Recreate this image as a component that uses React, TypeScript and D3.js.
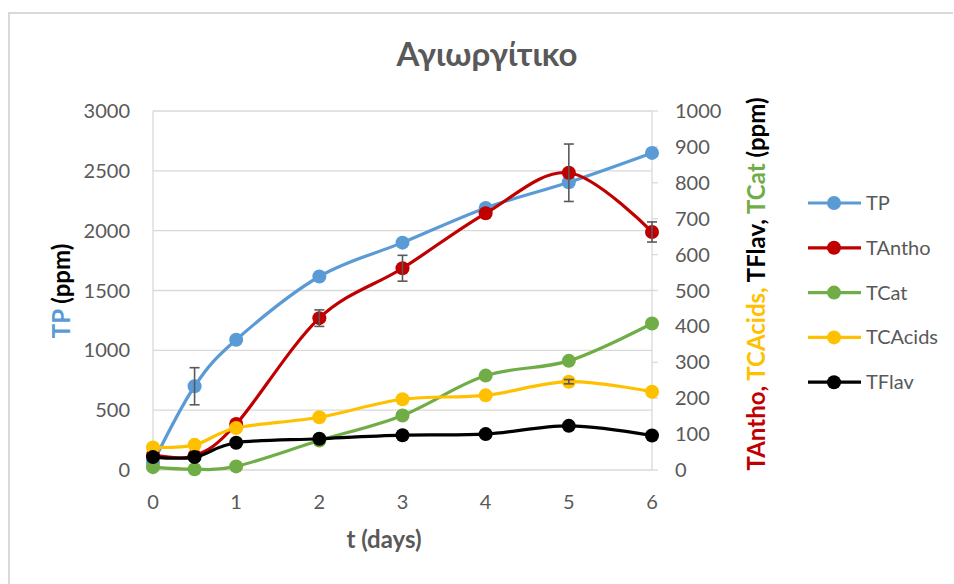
import React from 'react';
import * as d3 from 'd3';

const days = [0, 0.5, 1, 2, 3, 4, 5, 6];
const tp = [60, 700, 1088, 1617, 1900, 2190, 2405, 2650];
const tAntho = [42, 40, 128, 423, 562, 715, 828, 663];
const tCat = [8, 2, 10, 82, 152, 263, 304, 408];
const tCAcids = [63, 70, 117, 147, 197, 208, 246, 218];
const tFlav = [36, 36, 76, 87, 97, 100, 123, 96];

// error bars: [day index, +/-]
const tpErr = [[1, 155]];
const tAnthoErr = [[3, 23], [4, 36], [6, 80], [7, 28]];
const tCAcidsErr = [[6, 6]];

const leftTicks = [0, 500, 1000, 1500, 2000, 2500, 3000];
const rightTicks = [0, 100, 200, 300, 400, 500, 600, 700, 800, 900, 1000];
const xTicks = [0, 1, 2, 3, 4, 5, 6];

const series = [
  { name: 'TP', values: tp, color: '#5B9BD5', axis: 'left', err: tpErr },
  { name: 'TAntho', values: tAntho, color: '#C00000', axis: 'right', err: tAnthoErr },
  { name: 'TCat', values: tCat, color: '#70AD47', axis: 'right', err: [] },
  { name: 'TCAcids', values: tCAcids, color: '#FFC000', axis: 'right', err: tCAcidsErr },
  { name: 'TFlav', values: tFlav, color: '#000000', axis: 'right', err: [] },
];

const font = "Lato, 'Open Sans', 'Noto Sans', sans-serif";
const grey = '#595959';
const gridCol = '#d9d9d9';

const App = () => {
  const width = 954;
  const height = 584;
  const left = 153;
  const right = 652;
  const top = 111;
  const bottom = 470;

  const x = d3.scaleLinear().domain([0, 6]).range([left, right]);
  const yL = d3.scaleLinear().domain([0, 3000]).range([bottom, top]);
  const yR = d3.scaleLinear().domain([0, 1000]).range([bottom, top]);

  const lineFor = (s) =>
    d3.line()
      .x((d, i) => x(days[i]))
      .y((d) => (s.axis === 'left' ? yL(d) : yR(d)))
      .curve(d3.curveCardinal.tension(0))(s.values);

  return (
    <svg
      width={width}
      height={height}
      style={{ position: 'absolute', left: 0, top: 0, background: '#fff' }}
      fontFamily={font}
    >
      <rect x={0} y={0} width={width} height={height} fill="#fff" />
      {/* chart border */}
      <path d={`M9,${height + 5} V13 H953`} fill="none" stroke={gridCol} strokeWidth={2} />

      <text x={487} y={66} textAnchor="middle" fontSize={33} fontWeight="bold" fill={grey}>
        Αγιωργίτικο
      </text>

      {/* gridlines */}
      {leftTicks.map((t) => (
        <line key={t} x1={left} x2={right} y1={yL(t)} y2={yL(t)} stroke={gridCol} strokeWidth={1.3} />
      ))}
      <line x1={left} x2={left} y1={top} y2={bottom} stroke={gridCol} strokeWidth={1.3} />
      <line x1={right} x2={right} y1={top} y2={bottom} stroke={gridCol} strokeWidth={1.3} />
      {rightTicks.map((t) => (
        <line key={t} x1={right} x2={right + 6} y1={yR(t)} y2={yR(t)} stroke={gridCol} strokeWidth={1.3} />
      ))}

      {/* tick labels */}
      {leftTicks.map((t) => (
        <text key={t} x={130} y={yL(t)} dy="0.35em" textAnchor="end" fontSize={20} fill={grey}>
          {t}
        </text>
      ))}
      {rightTicks.map((t) => (
        <text key={t} x={675} y={yR(t)} dy="0.35em" textAnchor="start" fontSize={20} fill={grey}>
          {t}
        </text>
      ))}
      {xTicks.map((t) => (
        <text key={t} x={x(t)} y={509} textAnchor="middle" fontSize={20} fill={grey}>
          {t}
        </text>
      ))}

      <text x={384} y={548} textAnchor="middle" fontSize={24} fontWeight="bold" fill={grey}>
        t (days)
      </text>

      <text
        transform="translate(70,291) rotate(-90)"
        textAnchor="middle"
        fontSize={24}
        fontWeight="bold"
      >
        <tspan fill="#5B9BD5">TP</tspan>
        <tspan fill="#000"> (ppm)</tspan>
      </text>

      <text
        transform="translate(765,284) rotate(-90)"
        textAnchor="middle"
        fontSize={24}
        fontWeight="bold"
      >
        <tspan fill="#C00000">TAntho, </tspan>
        <tspan fill="#FFC000">TCAcids, </tspan>
        <tspan fill="#000">TFlav, </tspan>
        <tspan fill="#70AD47">TCat</tspan>
        <tspan fill="#000"> (ppm)</tspan>
      </text>

      {/* series */}
      {series.map((s) => {
        const yS = s.axis === 'left' ? yL : yR;
        return (
          <g key={s.name}>
            <path d={lineFor(s)} fill="none" stroke={s.color} strokeWidth={3.2} strokeLinejoin="round" />
            {s.values.map((v, i) => (
              <circle key={i} cx={x(days[i])} cy={yS(v)} r={7} fill={s.color} />
            ))}
          </g>
        );
      })}

      {/* error bars */}
      {series.map((s) => {
        const yS = s.axis === 'left' ? yL : yR;
        return s.err.map(([i, e]) => {
          const cx = x(days[i]);
          const y1 = yS(s.values[i] + e);
          const y2 = yS(s.values[i] - e);
          return (
            <g key={s.name + i} stroke={grey} strokeWidth={1.6}>
              <line x1={cx} x2={cx} y1={y1} y2={y2} />
              <line x1={cx - 5} x2={cx + 5} y1={y1} y2={y1} />
              <line x1={cx - 5} x2={cx + 5} y1={y2} y2={y2} />
            </g>
          );
        });
      })}

      {/* legend */}
      {series.map((s, i) => {
        const ly = 203 + i * 44.8;
        return (
          <g key={s.name}>
            <line x1={808} x2={861} y1={ly} y2={ly} stroke={s.color} strokeWidth={3.2} />
            <circle cx={834} cy={ly} r={7} fill={s.color} />
            <text x={866} y={ly} dy="0.35em" fontSize={20} fill={grey}>
              {s.name}
            </text>
          </g>
        );
      })}
    </svg>
  );
};

export default App;
